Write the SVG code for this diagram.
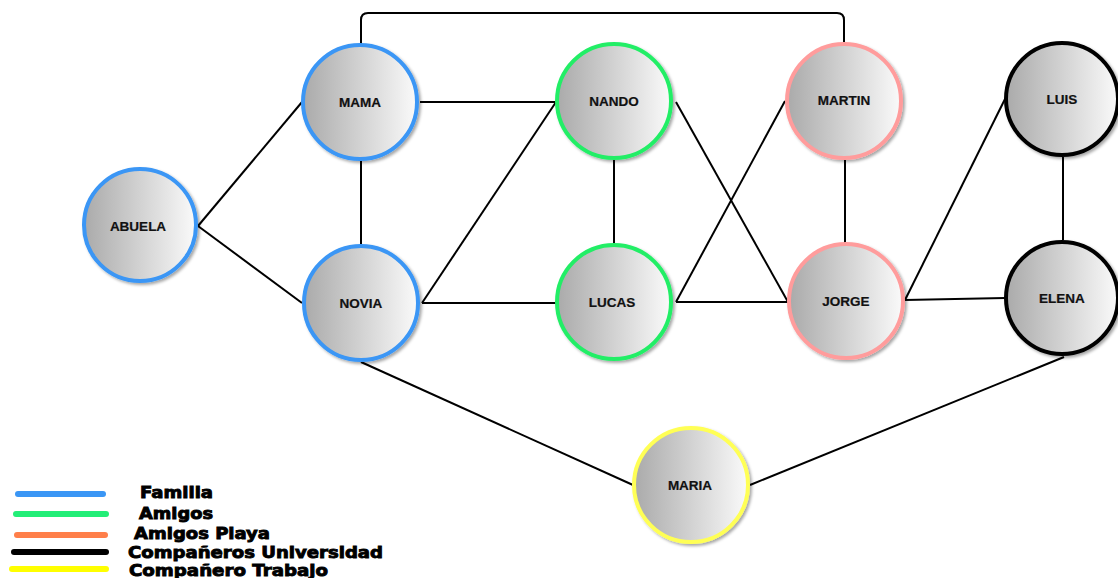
<svg xmlns="http://www.w3.org/2000/svg" width="1118" height="578" viewBox="0 0 1118 578">
<style>
.edge{stroke:#000;stroke-width:2;fill:none}
.node circle{fill:url(#g);stroke-width:4;filter:url(#sh)}
.node text{font-family:"Liberation Sans",Arial,sans-serif;font-weight:bold;font-size:13.5px;text-anchor:middle;fill:#111;stroke:#111;stroke-width:0.2}
.fam{stroke:#3a96f5}.ami{stroke:#22ee66}.pla{stroke:#ff9c9c}.uni{stroke:#000}.tra{stroke:#ffff55}
.leg line{stroke-width:6;stroke-linecap:round}
.leg text{font-family:"DejaVu Sans",sans-serif;font-weight:bold;font-size:16px;fill:#000;stroke:#000;stroke-width:0.9}
</style>
<defs>
<linearGradient id="g" x1="0" y1="0" x2="1" y2="0">
<stop offset="0" stop-color="#aaaaaa"/>
<stop offset="1" stop-color="#fafafa"/>
</linearGradient>
<filter id="sh" x="-20%" y="-20%" width="140%" height="140%">
<feDropShadow dx="2" dy="2" stdDeviation="1.5" flood-color="#000" flood-opacity="0.35"/>
</filter>
</defs>
<rect width="1118" height="578" fill="#fff"/>
<g id="connectors">
<path class="edge" d="M361 44 V20 Q361 13 368 13 H837 Q844 13 844 20 V43"/>
<line class="edge" x1="198" y1="226" x2="302" y2="102"/>
<line class="edge" x1="198" y1="226" x2="302" y2="303"/>
<line class="edge" x1="361" y1="161" x2="361" y2="245"/>
<line class="edge" x1="420" y1="102" x2="556" y2="102"/>
<line class="edge" x1="422" y1="303" x2="556" y2="102"/>
<line class="edge" x1="422" y1="303" x2="556" y2="303"/>
<line class="edge" x1="614" y1="160" x2="614" y2="244"/>
<line class="edge" x1="676" y1="102" x2="788" y2="302"/>
<line class="edge" x1="676" y1="302" x2="785" y2="101"/>
<line class="edge" x1="676" y1="302" x2="788" y2="302"/>
<line class="edge" x1="845" y1="160" x2="845" y2="243"/>
<line class="edge" x1="905" y1="300" x2="1005" y2="99"/>
<line class="edge" x1="905" y1="300" x2="1005" y2="298"/>
<line class="edge" x1="1063" y1="157" x2="1063" y2="240"/>
<line class="edge" x1="361" y1="362" x2="633" y2="485"/>
<line class="edge" x1="750" y1="485" x2="1064" y2="357"/>
</g>
<g id="abuela" class="node"><circle class="fam" cx="140" cy="225" r="56"/><text x="138" y="231">ABUELA</text></g>
<g id="mama" class="node"><circle class="fam" cx="360" cy="102" r="57"/><text x="360" y="107">MAMA</text></g>
<g id="novia" class="node"><circle class="fam" cx="361" cy="303" r="57"/><text x="361" y="308">NOVIA</text></g>
<g id="nando" class="node"><circle class="ami" cx="614" cy="101" r="57"/><text x="614" y="106">NANDO</text></g>
<g id="lucas" class="node"><circle class="ami" cx="614" cy="302" r="57"/><text x="612" y="307">LUCAS</text></g>
<g id="martin" class="node"><circle class="pla" cx="844" cy="101" r="57"/><text x="844" y="105">MARTIN</text></g>
<g id="jorge" class="node"><circle class="pla" cx="846" cy="301" r="57"/><text x="846" y="306">JORGE</text></g>
<g id="luis" class="node"><circle class="uni" cx="1062" cy="99" r="56"/><text x="1062" y="104">LUIS</text></g>
<g id="elena" class="node"><circle class="uni" cx="1062" cy="298" r="56"/><text x="1062" y="303">ELENA</text></g>
<g id="maria" class="node"><circle class="tra" cx="691" cy="485" r="57"/><text x="690" y="490">MARIA</text></g>
<g id="legend" class="leg">
<line class="fam" x1="18" y1="494" x2="103" y2="494"/>
<line x1="16" y1="514" x2="106" y2="514" stroke="#22ee77"/>
<line x1="17" y1="535" x2="105" y2="535" stroke="#ff7f4a"/>
<line x1="14" y1="552" x2="106" y2="552" stroke="#000"/>
<line x1="12" y1="569" x2="106" y2="569" stroke="#ffff00"/>
<text x="140" y="498" textLength="73" lengthAdjust="spacingAndGlyphs">Familia</text>
<text x="139" y="519" textLength="74" lengthAdjust="spacingAndGlyphs">Amigos</text>
<text x="134" y="539" textLength="136" lengthAdjust="spacingAndGlyphs">Amigos Playa</text>
<text x="128" y="558" textLength="255" lengthAdjust="spacingAndGlyphs">Compañeros Universidad</text>
<text x="129" y="576" textLength="199" lengthAdjust="spacingAndGlyphs">Compañero Trabajo</text>
</g>
</svg>
